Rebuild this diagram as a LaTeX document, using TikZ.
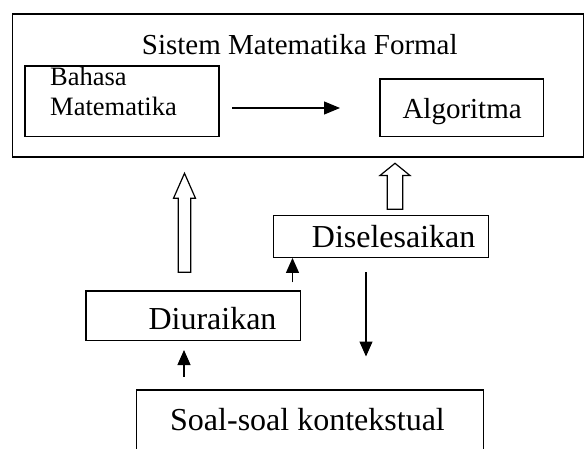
\documentclass[tikz,border=0pt]{standalone}
\usepackage{fontspec}
\setmainfont{Liberation Serif}
\usetikzlibrary{arrows.meta}
\begin{document}
\begin{tikzpicture}[x=1pt,y=-1pt,
  frame/.style={draw=black, line width=1.3pt, rectangle, inner sep=0pt},
  txt/.style={anchor=base west, inner sep=0pt, text=black},
  arr/.style={draw=black, line width=1.2pt, -{Triangle[length=15pt,width=13pt]}},
  hollow/.style={draw=black, line width=1.2pt, fill=white, line join=miter}
]
\useasboundingbox (0,0) rectangle (584,449);
\clip (0,0) rectangle (584,449);
\fill[white] (0,0) rectangle (584,449);

% boxes
\node[frame, minimum width=571pt, minimum height=143pt] (outer) at (297.9,85.5) {};
\node[frame, minimum width=194pt, minimum height=70.7pt] (bahasa) at (122,101.35) {};
\node[frame, minimum width=163.3pt, minimum height=57.7pt] (algo) at (461.65,107.85) {};
\node[frame, minimum width=215.2pt, minimum height=41.6pt] (disel) at (381.1,236.5) {};
\node[frame, minimum width=214.5pt, minimum height=49.7pt] (diurai) at (193.25,315.85) {};
\node[frame, minimum width=346.6pt, minimum height=80pt] (soal) at (310,430) {};

% texts
\node[txt, font=\fontsize{29}{34}\selectfont] (ttitle) at (141.7,55) {Sistem Matematika Formal};
\node[txt, font=\fontsize{26.5}{30}\selectfont] (tbah1) at (50,85.7) {Bahasa};
\node[txt, font=\fontsize{26.5}{30}\selectfont] (tbah2) at (50,115.7) {Matematika};
\node[txt, font=\fontsize{29}{34}\selectfont] (talgo) at (402.3,118.3) {Algoritma};
\node[txt, font=\fontsize{32}{38}\selectfont] (tdisel) at (311.7,247.3) {Diselesaikan};
\node[txt, font=\fontsize{32}{38}\selectfont] (tdiurai) at (148.3,330) {Diuraikan};
\node[txt, font=\fontsize{32}{38}\selectfont] (tsoal) at (170,430) {Soal-soal kontekstual};

% free-end coordinates
\coordinate (a1s) at (232,108);
\coordinate (a1e) at (340,108);
\coordinate (a2s) at (292.5,282.3);
\coordinate (a3s) at (184,376.7);
\coordinate (a3e) at (184,350);
\coordinate (a4s) at (366,272.3);
\coordinate (a4e) at (366,356.5);

% solid arrows
\draw[arr, -{Triangle[length=16pt,width=13pt]}] (a1s) -- (a1e);
\draw[arr] (a2s) -- (a2s |- disel.south);
\draw[arr] (a3s) -- (a3e);
\draw[arr] (a4s) -- (a4e);

% hollow arrows (block arrows)
\draw[hollow] (178.3,272.3) -- (178.3,198.3) -- (173.5,198.3) -- (184.5,173.3)
  -- (195.5,198.3) -- (190.7,198.3) -- (190.7,272.3) -- cycle;
\draw[hollow] (387.3,209.3) -- (387.3,175.5) -- (380,175.5) -- (395,163.3)
  -- (410,175.5) -- (402.7,175.5) -- (402.7,209.3) -- cycle;
\end{tikzpicture}
\end{document}
